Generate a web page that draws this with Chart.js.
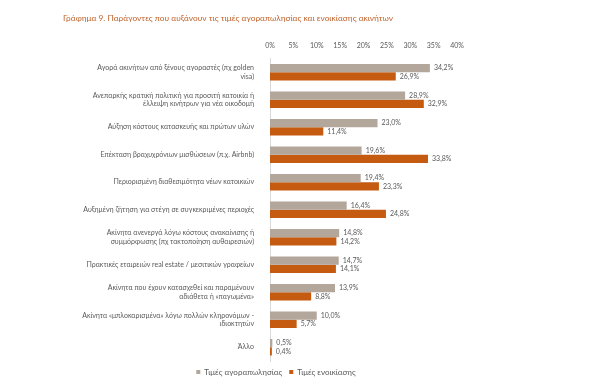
<!DOCTYPE html>
<html>
<head>
<meta charset="utf-8">
<script src="https://cdn.jsdelivr.net/npm/chart.js@4"></script>
<style>
  html, body { margin: 0; padding: 0; background: #fff; }
  #wrap { position: relative; width: 600px; height: 390px; }
  #title {
    position: absolute; left: 63px; top: 13px;
    font: 8.3px Lato, sans-serif; color: #c0622a;
  }
</style>
</head>
<body>
<div id="wrap">
  <div id="title">Γράφημα 9. Παράγοντες που αυξάνουν τις τιμές αγοραπωλησίας και ενοικίασης ακινήτων</div>
  <canvas id="chart" width="600" height="390"></canvas>
</div>
<script>
// κατηγορίες (πολλαπλές γραμμές όπου σπάει το κείμενο)
const categories = [
  ["Αγορά ακινήτων από ξένους αγοραστές (πχ golden", "visa)"],
  ["Ανεπαρκής κρατική πολιτική για προσιτή κατοικία ή", "έλλειψη κινήτρων για νέα οικοδομή"],
  "Αύξηση κόστους κατασκευής και πρώτων υλών",
  "Επέκταση βραχυχρόνιων μισθώσεων (π.χ. Airbnb)",
  "Περιορισμένη διαθεσιμότητα νέων κατοικιών",
  "Αυξημένη ζήτηση για στέγη σε συγκεκριμένες περιοχές",
  ["Ακίνητα ανενεργά λόγω κόστους ανακαίνισης ή", "συμμόρφωσης (πχ τακτοποίηση αυθαιρεσιών)"],
  "Πρακτικές εταιρειών real estate / μεσιτικών γραφείων",
  ["Ακίνητα που έχουν κατασχεθεί και παραμένουν", "αδιάθετα ή «παγωμένα»"],
  ["Ακίνητα «μπλοκαρισμένα» λόγω πολλών κληρονόμων -", "ιδιοκτητών"],
  "Άλλο"
];
const salesValues = [34.2, 28.9, 23.0, 19.6, 19.4, 16.4, 14.8, 14.7, 13.9, 10.0, 0.5];
const rentValues  = [26.9, 32.9, 11.4, 33.8, 23.3, 24.8, 14.2, 14.1, 8.8, 5.7, 0.4];
const seriesNames = ["Τιμές αγοραπωλησίας", "Τιμές ενοικίασης"];
const tickMax = 40;
const tickStep = 5;

const fontFamily = "Lato, sans-serif";
const textColor = "#595959";

// ετικέτες τιμών δίπλα στις μπάρες
const valueLabels = {
  id: "valueLabels",
  afterDatasetsDraw(chart) {
    const ctx = chart.ctx;
    ctx.save();
    ctx.font = "7px " + fontFamily;
    ctx.fillStyle = textColor;
    ctx.textAlign = "left";
    ctx.textBaseline = "middle";
    chart.data.datasets.forEach((ds, i) => {
      chart.getDatasetMeta(i).data.forEach((bar, j) => {
        const txt = ds.data[j].toFixed(1).replace(".", ",") + "%";
        ctx.fillText(txt, bar.x + 4, bar.y);
      });
    });
    ctx.restore();
  }
};

// μετακίνηση του υπομνήματος λίγο δεξιά, όπως στο πρωτότυπο
const legendShift = {
  id: "legendShift",
  afterLayout(chart) {
    const lg = chart.legend;
    const dx = 276 - (lg.left + lg.right) / 2;
    lg.left += dx;
    lg.right += dx;
  }
};

new Chart(document.getElementById("chart"), {
  type: "bar",
  data: {
    labels: categories,
    datasets: [
      { label: seriesNames[0], data: salesValues, backgroundColor: "#b3a69b",
        categoryPercentage: 0.6, barPercentage: 1.0 },
      { label: seriesNames[1], data: rentValues, backgroundColor: "#c55a11",
        categoryPercentage: 0.6, barPercentage: 1.0 }
    ]
  },
  options: {
    indexAxis: "y",
    responsive: false,
    animation: false,
    layout: { padding: { left: 60, right: 143, top: 42, bottom: 4 } },
    scales: {
      x: {
        position: "top",
        min: 0, max: tickMax,
        grid: { display: false },
        border: { display: false },
        ticks: {
          stepSize: tickStep,
          padding: 0,
          color: textColor,
          font: { family: fontFamily, size: 7 },
          callback: (v) => v + "%"
        }
      },
      y: {
        grid: { display: false },
        border: { display: true, color: "#d9d9d9", width: 1 },
        ticks: {
          color: textColor,
          font: { family: fontFamily, size: 7 },
          padding: 8
        },
        afterFit(scale) { scale.width = 210; }
      }
    },
    plugins: {
      legend: {
        position: "bottom",
        labels: {
          boxWidth: 4, boxHeight: 4,
          color: textColor,
          font: { family: fontFamily, size: 8 },
          padding: 7
        }
      },
      tooltip: { enabled: false }
    }
  },
  plugins: [valueLabels, legendShift]
});
</script>
</body>
</html>
